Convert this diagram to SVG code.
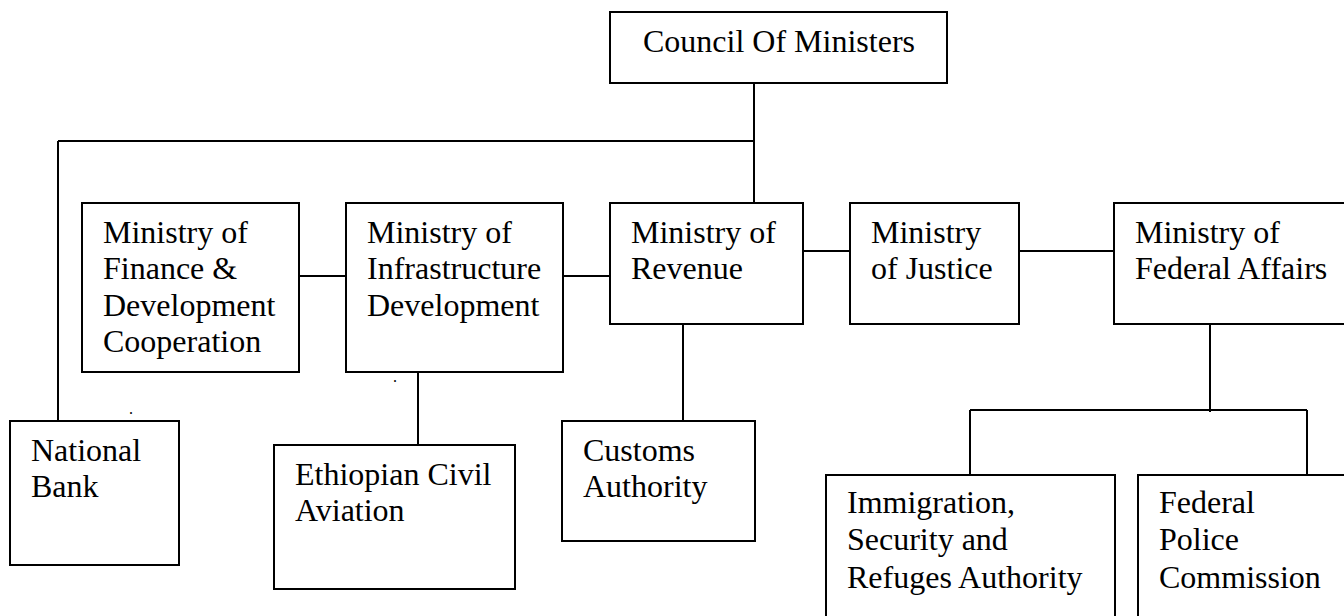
<svg xmlns="http://www.w3.org/2000/svg" width="1344" height="616" viewBox="0 0 1344 616">
  <style>
    .box { fill: #ffffff; stroke: #000000; stroke-width: 2; }
    .lbl { font-family: "Liberation Serif", "Times New Roman", serif; font-size: 32px; fill: #000000; }
    .link { fill: none; stroke: #000000; stroke-width: 2; }
    .dot { font-family: "Liberation Serif", "Times New Roman", serif; font-size: 16px; fill: #000000; }
  </style>
  <rect x="0" y="0" width="1344" height="616" fill="#ffffff"/>

  <!-- connectors -->
  <g id="connectors">
    <path class="link" d="M754 83 V203"/>
    <path class="link" d="M58 141 H754"/>
    <path class="link" d="M58 141 V421"/>
    <path class="link" d="M299 276 H346"/>
    <path class="link" d="M563 276 H610"/>
    <path class="link" d="M803 251 H850"/>
    <path class="link" d="M1019 251 H1114"/>
    <path class="link" d="M418 372 V445"/>
    <path class="link" d="M683 324 V421"/>
    <path class="link" d="M1210 324 V412"/>
    <path class="link" d="M970 410 H1307"/>
    <path class="link" d="M970 410 V475"/>
    <path class="link" d="M1307 410 V475"/>
  </g>

  <g id="council">
    <rect class="box" x="610" y="12" width="337" height="71"/>
    <text class="lbl" x="643" y="52">Council Of Ministers</text>
  </g>

  <g id="finance">
    <rect class="box" x="82" y="203" width="217" height="169"/>
    <text class="lbl" x="103" y="243">Ministry of</text>
    <text class="lbl" x="103" y="279">Finance &amp;</text>
    <text class="lbl" x="103" y="316">Development</text>
    <text class="lbl" x="103" y="352">Cooperation</text>
  </g>

  <g id="infrastructure">
    <rect class="box" x="346" y="203" width="217" height="169"/>
    <text class="lbl" x="367" y="243">Ministry of</text>
    <text class="lbl" x="367" y="279">Infrastructure</text>
    <text class="lbl" x="367" y="316">Development</text>
  </g>

  <g id="revenue">
    <rect class="box" x="610" y="203" width="193" height="121"/>
    <text class="lbl" x="631" y="243">Ministry of</text>
    <text class="lbl" x="631" y="279">Revenue</text>
  </g>

  <g id="justice">
    <rect class="box" x="850" y="203" width="169" height="121"/>
    <text class="lbl" x="871" y="243">Ministry</text>
    <text class="lbl" x="871" y="279">of Justice</text>
  </g>

  <g id="federal-affairs">
    <rect class="box" x="1114" y="203" width="240" height="121"/>
    <text class="lbl" x="1135" y="243">Ministry of</text>
    <text class="lbl" x="1135" y="279">Federal Affairs</text>
  </g>

  <g id="national-bank">
    <rect class="box" x="10" y="421" width="169" height="144"/>
    <text class="lbl" x="31" y="461">National</text>
    <text class="lbl" x="31" y="497">Bank</text>
  </g>

  <g id="civil-aviation">
    <rect class="box" x="274" y="445" width="241" height="144"/>
    <text class="lbl" x="295" y="485">Ethiopian Civil</text>
    <text class="lbl" x="295" y="521">Aviation</text>
  </g>

  <g id="customs">
    <rect class="box" x="562" y="421" width="193" height="120"/>
    <text class="lbl" x="583" y="461">Customs</text>
    <text class="lbl" x="583" y="497">Authority</text>
  </g>

  <g id="immigration">
    <rect class="box" x="826" y="475" width="289" height="160"/>
    <text class="lbl" x="847" y="513">Immigration,</text>
    <text class="lbl" x="847" y="550">Security and</text>
    <text class="lbl" x="847" y="588">Refuges Authority</text>
  </g>

  <g id="federal-police">
    <rect class="box" x="1138" y="475" width="216" height="160"/>
    <text class="lbl" x="1159" y="513">Federal</text>
    <text class="lbl" x="1159" y="550">Police</text>
    <text class="lbl" x="1159" y="588">Commission</text>
  </g>

  <!-- stray full stops -->
  <text class="dot" x="129" y="414">.</text>
  <text class="dot" x="393" y="382">.</text>
</svg>
